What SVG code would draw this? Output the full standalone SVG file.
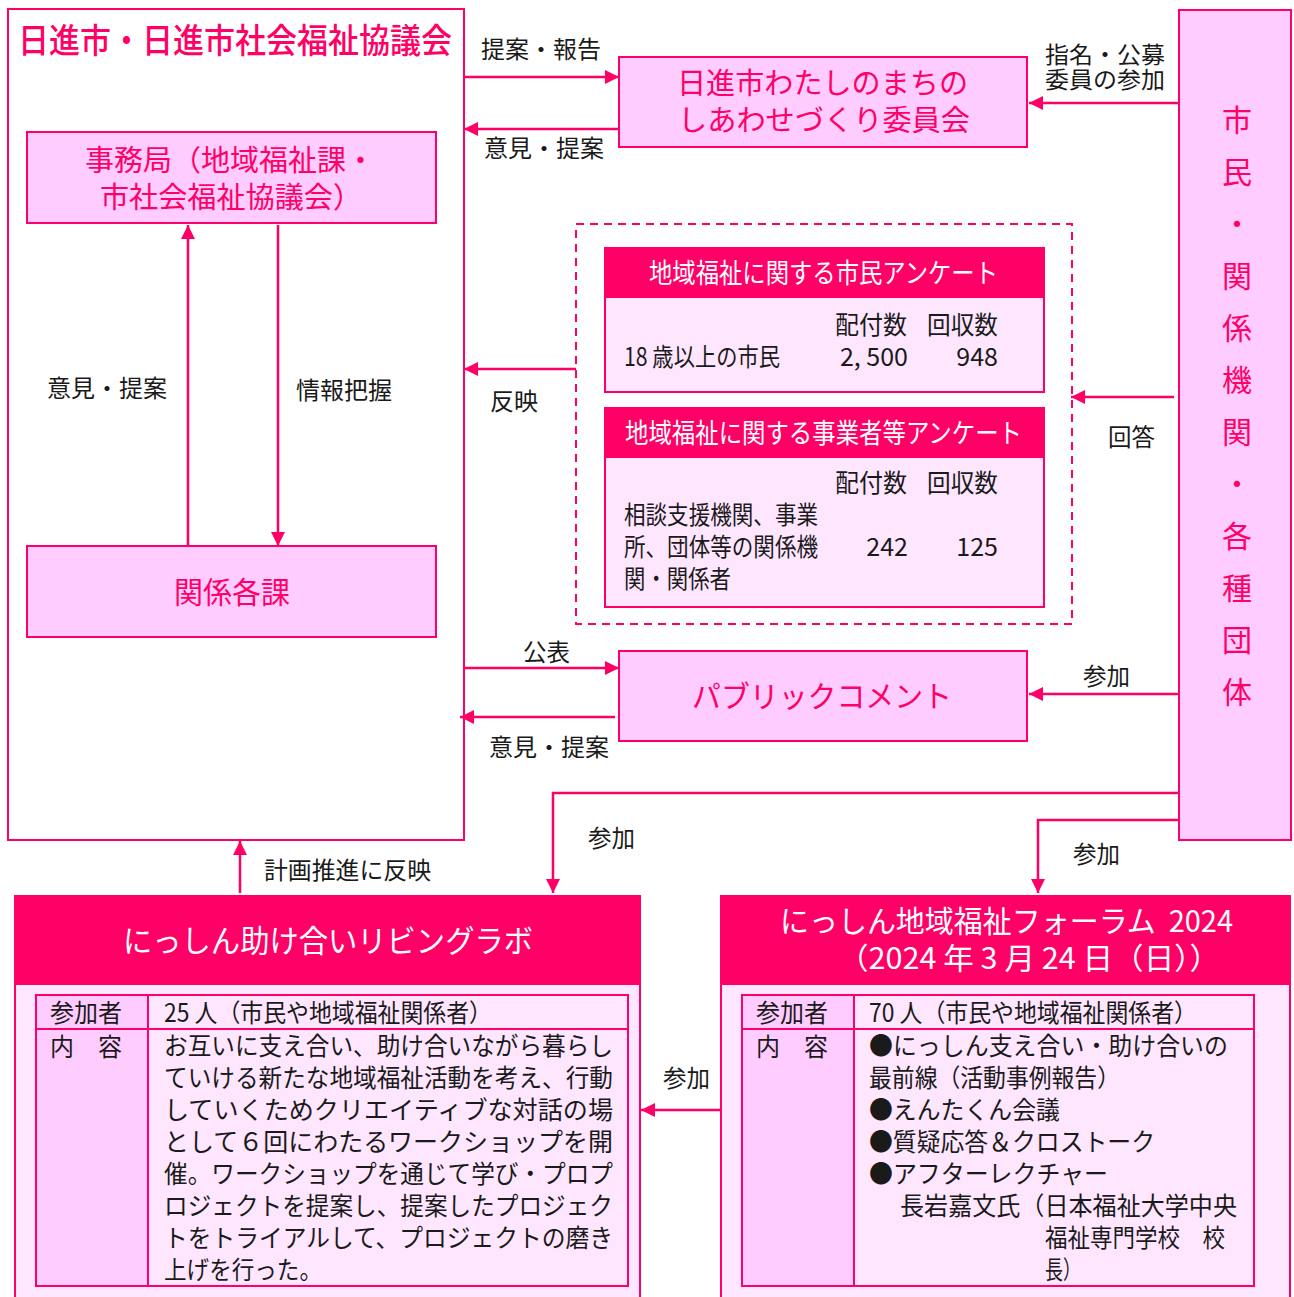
<svg xmlns="http://www.w3.org/2000/svg" width="1294" height="1297" viewBox="0 0 1294 1297">
<defs>
<style>
text{font-family:"Noto Sans CJK JP","Noto Sans",sans-serif;dominant-baseline:central;transform:translateY(-2px);}
.pk{fill:#FF0066;}
.wt{fill:#FFFFFF;}
.bk{fill:#1a1a1a;}
.box{fill:#FFCCFF;stroke:#FF0066;stroke-width:2;}
.lt{fill:#FFE6FF;stroke:#FF0066;stroke-width:2;}
.hd{fill:#FF0066;stroke:#FF0066;stroke-width:2;}
.ar{fill:none;stroke:#FF0066;stroke-width:2.5;marker-end:url(#ah);}
.f30{font-size:30px;}
.f29{font-size:29px;}
.f24{font-size:24px;}
.f23{font-size:23px;}
.f25{font-size:25px;}
.f27{font-size:27px;}
</style>
<marker id="ah" viewBox="0 0 10 10" refX="10" refY="5" markerWidth="15" markerHeight="14" markerUnits="userSpaceOnUse" orient="auto"><path d="M0,0 L10,5 L0,10 z" fill="#FF0066"/></marker>
</defs>

<g id="main">
<rect x="8" y="9" width="456" height="831" fill="#FFFFFF" stroke="#FF0066" stroke-width="2"/>
<text class="pk" x="18" y="40" font-size="34" font-weight="500" textLength="434" lengthAdjust="spacingAndGlyphs">日進市・日進市社会福祉協議会</text>
</g>

<g id="jimukyoku">
<rect class="box" x="27" y="132" width="409" height="91"/>
<text class="pk f29" x="85" y="160" textLength="290" lengthAdjust="spacingAndGlyphs">事務局（地域福祉課・</text>
<text class="pk f29" x="100" y="197" textLength="262" lengthAdjust="spacingAndGlyphs">市社会福祉協議会）</text>
</g>

<g id="kankei">
<rect class="box" x="27" y="546" width="409" height="91"/>
<text class="pk f30" x="174" y="592" textLength="116" lengthAdjust="spacingAndGlyphs">関係各課</text>
</g>

<g id="iinkai">
<rect class="box" x="619" y="57" width="408" height="90"/>
<text class="pk f29" x="677" y="83" textLength="291" lengthAdjust="spacingAndGlyphs">日進市わたしのまちの</text>
<text class="pk f29" x="678" y="120" textLength="292" lengthAdjust="spacingAndGlyphs">しあわせづくり委員会</text>
</g>

<g id="shimin">
<rect class="box" x="1179" y="10" width="112" height="830"/>
<g class="pk f30" text-anchor="middle">
<text x="1237" y="120">市</text>
<text x="1237" y="172">民</text>
<text x="1237" y="224">・</text>
<text x="1237" y="276">関</text>
<text x="1237" y="328">係</text>
<text x="1237" y="380">機</text>
<text x="1237" y="432">関</text>
<text x="1237" y="484">・</text>
<text x="1237" y="536">各</text>
<text x="1237" y="588">種</text>
<text x="1237" y="640">団</text>
<text x="1237" y="692">体</text>
</g>
</g>

<g id="surveys">
<rect x="576" y="224" width="496" height="400" fill="none" stroke="#FF0066" stroke-width="2" stroke-dasharray="8,6"/>
<rect class="lt" x="605" y="297" width="439" height="95"/>
<rect class="hd" x="605" y="248" width="439" height="49"/>
<text class="wt f27" x="649" y="273" textLength="349" lengthAdjust="spacingAndGlyphs">地域福祉に関する市民アンケート</text>
<text class="bk f25" x="835" y="325" textLength="72" lengthAdjust="spacingAndGlyphs">配付数</text>
<text class="bk f25" x="927" y="325" textLength="71" lengthAdjust="spacingAndGlyphs">回収数</text>
<text class="bk f25" x="624" y="357" textLength="156" lengthAdjust="spacingAndGlyphs">18 歳以上の市民</text>
<text class="bk f25" x="908" y="357" text-anchor="end">2, 500</text>
<text class="bk f25" x="998" y="357" text-anchor="end">948</text>

<rect class="lt" x="605" y="457" width="439" height="150"/>
<rect class="hd" x="605" y="408" width="439" height="49"/>
<text class="wt f27" x="625" y="433" textLength="397" lengthAdjust="spacingAndGlyphs">地域福祉に関する事業者等アンケート</text>
<text class="bk f25" x="835" y="483" textLength="72" lengthAdjust="spacingAndGlyphs">配付数</text>
<text class="bk f25" x="927" y="483" textLength="71" lengthAdjust="spacingAndGlyphs">回収数</text>
<text class="bk f25" x="624" y="515" textLength="194" lengthAdjust="spacingAndGlyphs">相談支援機関、事業</text>
<text class="bk f25" x="624" y="547" textLength="194" lengthAdjust="spacingAndGlyphs">所、団体等の関係機</text>
<text class="bk f25" x="624" y="579" textLength="107" lengthAdjust="spacingAndGlyphs">関・関係者</text>
<text class="bk f25" x="908" y="547" text-anchor="end">242</text>
<text class="bk f25" x="998" y="547" text-anchor="end">125</text>
</g>

<g id="pubcom">
<rect class="box" x="619" y="651" width="408" height="90"/>
<text class="pk f30" x="692" y="696" textLength="260" lengthAdjust="spacingAndGlyphs">パブリックコメント</text>
</g>

<g id="livinglab">
<rect class="lt" x="15" y="896" width="625" height="420"/>
<rect class="hd" x="15" y="896" width="625" height="88"/>
<text class="wt" font-size="31" x="123" y="940" textLength="410" lengthAdjust="spacingAndGlyphs">にっしん助け合いリビングラボ</text>
<rect x="36" y="995" width="112" height="291" fill="#FFCCFF"/>
<rect x="36" y="995" width="592" height="291" fill="none" stroke="#FF0066" stroke-width="2"/>
<line x1="36" y1="1029" x2="628" y2="1029" stroke="#FF0066" stroke-width="2"/>
<line x1="148" y1="995" x2="148" y2="1286" stroke="#FF0066" stroke-width="2"/>
<text class="bk f25" x="50" y="1013" textLength="72" lengthAdjust="spacingAndGlyphs">参加者</text>
<text class="bk f25" x="50" y="1047" textLength="72" lengthAdjust="spacingAndGlyphs">内　容</text>
<text class="bk f25" x="164" y="1013" textLength="328" lengthAdjust="spacingAndGlyphs">25 人（市民や地域福祉関係者）</text>
<g class="bk f25">
<text x="164" y="1046" textLength="449" lengthAdjust="spacingAndGlyphs">お互いに支え合い、助け合いながら暮らし</text>
<text x="164" y="1078" textLength="449" lengthAdjust="spacingAndGlyphs">ていける新たな地域福祉活動を考え、行動</text>
<text x="164" y="1110" textLength="449" lengthAdjust="spacingAndGlyphs">していくためクリエイティブな対話の場</text>
<text x="164" y="1142" textLength="449" lengthAdjust="spacingAndGlyphs">として６回にわたるワークショップを開</text>
<text x="164" y="1174" textLength="449" lengthAdjust="spacingAndGlyphs">催。ワークショップを通じて学び・プロプ</text>
<text x="164" y="1206" textLength="449" lengthAdjust="spacingAndGlyphs">ロジェクトを提案し、提案したプロジェク</text>
<text x="164" y="1238" textLength="449" lengthAdjust="spacingAndGlyphs">トをトライアルして、プロジェクトの磨き</text>
<text x="164" y="1270" textLength="158" lengthAdjust="spacingAndGlyphs">上げを行った。</text>
</g>
</g>

<g id="forum">
<rect class="lt" x="721" y="896" width="569" height="420"/>
<rect class="hd" x="721" y="896" width="569" height="88"/>
<text class="wt" font-size="30" x="780" y="921" textLength="453" lengthAdjust="spacingAndGlyphs">にっしん地域福祉フォーラム&#160;&#160;2024</text>
<text class="wt" font-size="30" x="838" y="958" textLength="382" lengthAdjust="spacingAndGlyphs">（2024 年 3 月 24 日（日））</text>
<rect x="742" y="995" width="112" height="291" fill="#FFCCFF"/>
<rect x="742" y="995" width="512" height="291" fill="none" stroke="#FF0066" stroke-width="2"/>
<line x1="742" y1="1029" x2="1254" y2="1029" stroke="#FF0066" stroke-width="2"/>
<line x1="854" y1="995" x2="854" y2="1286" stroke="#FF0066" stroke-width="2"/>
<text class="bk f25" x="756" y="1013" textLength="72" lengthAdjust="spacingAndGlyphs">参加者</text>
<text class="bk f25" x="756" y="1047" textLength="72" lengthAdjust="spacingAndGlyphs">内　容</text>
<text class="bk f25" x="869" y="1013" textLength="328" lengthAdjust="spacingAndGlyphs">70 人（市民や地域福祉関係者）</text>
<g class="bk f25">
<text x="869" y="1046" textLength="359" lengthAdjust="spacingAndGlyphs">●にっしん支え合い・助け合いの</text>
<text x="869" y="1078" textLength="251" lengthAdjust="spacingAndGlyphs">最前線（活動事例報告）</text>
<text x="869" y="1110" textLength="191" lengthAdjust="spacingAndGlyphs">●えんたくん会議</text>
<text x="869" y="1142" textLength="286" lengthAdjust="spacingAndGlyphs">●質疑応答＆クロストーク</text>
<text x="869" y="1174" textLength="239" lengthAdjust="spacingAndGlyphs">●アフターレクチャー</text>
<text x="900" y="1206" textLength="337" lengthAdjust="spacingAndGlyphs">長岩嘉文氏（日本福祉大学中央</text>
<text x="1045" y="1238" textLength="180" lengthAdjust="spacingAndGlyphs">福祉専門学校　校</text>
<text x="1045" y="1270" textLength="36" lengthAdjust="spacingAndGlyphs">長）</text>
</g>
</g>

<g id="connectors">
<line class="ar" x1="464" y1="77" x2="619" y2="77"/>
<line class="ar" x1="619" y1="129" x2="464" y2="129"/>
<line class="ar" x1="1179" y1="103" x2="1029" y2="103"/>
<line class="ar" x1="188" y1="546" x2="188" y2="225"/>
<line class="ar" x1="278" y1="225" x2="278" y2="546"/>
<line class="ar" x1="576" y1="369" x2="464" y2="369"/>
<line class="ar" x1="1174" y1="397" x2="1071" y2="397"/>
<line class="ar" x1="464" y1="668" x2="619" y2="668"/>
<line class="ar" x1="615" y1="717" x2="460" y2="717"/>
<line class="ar" x1="1179" y1="694" x2="1029" y2="694"/>
<polyline class="ar" points="1179,793 553,793 553,893"/>
<polyline class="ar" points="1179,820 1038,820 1038,893"/>
<line class="ar" x1="240" y1="893" x2="240" y2="841"/>
<line class="ar" x1="721" y1="1110" x2="641" y2="1110"/>
</g>

<g id="labels" class="bk f24">
<text x="481" y="49" textLength="120" lengthAdjust="spacingAndGlyphs">提案・報告</text>
<text x="484" y="148" textLength="120" lengthAdjust="spacingAndGlyphs">意見・提案</text>
<text class="f23" x="1045" y="55" textLength="120" lengthAdjust="spacingAndGlyphs">指名・公募</text>
<text class="f23" x="1045" y="80" textLength="120" lengthAdjust="spacingAndGlyphs">委員の参加</text>
<text x="47" y="388" textLength="120" lengthAdjust="spacingAndGlyphs">意見・提案</text>
<text x="296" y="390" textLength="96" lengthAdjust="spacingAndGlyphs">情報把握</text>
<text x="490" y="401" textLength="48" lengthAdjust="spacingAndGlyphs">反映</text>
<text x="1108" y="437" textLength="47" lengthAdjust="spacingAndGlyphs">回答</text>
<text x="523" y="652" textLength="47" lengthAdjust="spacingAndGlyphs">公表</text>
<text x="489" y="747" textLength="120" lengthAdjust="spacingAndGlyphs">意見・提案</text>
<text x="1083" y="676" textLength="47" lengthAdjust="spacingAndGlyphs">参加</text>
<text x="588" y="838" textLength="47" lengthAdjust="spacingAndGlyphs">参加</text>
<text x="1073" y="854" textLength="47" lengthAdjust="spacingAndGlyphs">参加</text>
<text x="264" y="870" textLength="167" lengthAdjust="spacingAndGlyphs">計画推進に反映</text>
<text x="663" y="1078" textLength="47" lengthAdjust="spacingAndGlyphs">参加</text>
</g>
</svg>
